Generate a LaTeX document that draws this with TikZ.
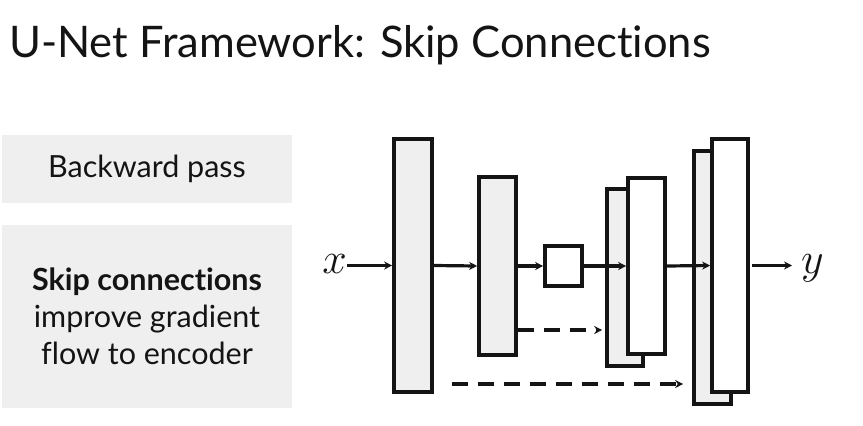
\documentclass[tikz,border=0pt]{standalone}
\usepackage{fix-cm}
\usepackage{fontspec}
\setmainfont{Lato}[Ligatures=NoCommon]
\usetikzlibrary{arrows.meta,calc}
\definecolor{panelgray}{HTML}{EFEFEF}
\definecolor{layergray}{HTML}{EFEFEF}
\definecolor{ink}{HTML}{141414}
\tikzset{
  panel/.style={fill=panelgray, draw=none, inner sep=0pt, text=ink},
  layer/.style={draw=ink, line width=3.6pt, fill=layergray, inner sep=0pt},
  layerw/.style={draw=ink, line width=3.6pt, fill=white, inner sep=0pt},
  flow/.style={draw=ink, line width=3.2pt, -{Stealth[length=8pt,width=8pt]}},
  skip/.style={draw=ink, line width=3.2pt, dash pattern=on 16.5pt off 9.5pt, -{Stealth[length=8pt,width=8pt]}},
  lbl/.style={inner sep=0pt, text=ink, font=\fontsize{44}{44}\selectfont}
}
\begin{document}
\begin{tikzpicture}[x=1pt,y=-1pt]
\useasboundingbox (0,0) rectangle (863,426);
% title
\node[anchor=base west, inner sep=0pt, text=ink, font=\fontsize{43.5}{50}\selectfont] (title) at (9,57) {U-Net Framework: Skip Connections};
% left panels
\node[panel, minimum width=290pt, minimum height=68pt, font=\fontsize{30.5}{34}\selectfont] (bp) at (147,169) {\raisebox{-4pt}{Backward pass}};
\node[panel, minimum width=290pt, minimum height=183pt, align=center, font=\fontsize{30.5}{37}\selectfont] (sc) at (147,316.5) {\textbf{Skip connections}\\improve gradient\\flow to encoder};
% layers
\node[layer, minimum width=38pt, minimum height=253pt] (R1) at (413,265.5) {};
\node[layer, minimum width=37pt, minimum height=178pt] (R2) at (497.5,266) {};
\node[layerw, minimum width=37pt, minimum height=40pt] (Sq) at (563.5,266) {};
\node[layer, minimum width=36pt, minimum height=177pt] (R3b) at (625,277.5) {};
\node[layerw, minimum width=37pt, minimum height=176pt] (R3f) at (646.5,266) {};
\node[layer, minimum width=37pt, minimum height=253pt] (R4b) at (712.5,277.5) {};
\node[layerw, minimum width=36pt, minimum height=253pt] (R4f) at (730,265.5) {};
% labels
\node[lbl, anchor=east] (x) at (347,264) {$x$};
\node[lbl, anchor=west] (y) at (801,268) {$y$};
% flow arrows
\draw[flow] (x.east |- R1.west) -- (R1.west);
\draw[flow] (R1.east) -- (R2.west);
\draw[flow] (R2.east) -- (Sq.west);
\draw[flow] (Sq.east) -- (R3f.west);
\draw[flow] (R3f.east) -- (R4f.west);
\draw[flow, shorten <=2pt, shorten >=9pt] (R4f.east) -- (y.west |- R4f.east);
% skip connections
\coordinate (k1) at (0,330);
\coordinate (k2) at (0,384);
\draw[skip, shorten >=3pt] (R2.east |- k1) -- (R3b.west |- k1);
\draw[skip, shorten <=18pt, shorten >=9pt] (R1.east |- k2) -- (R4b.west |- k2);
\end{tikzpicture}
\end{document}
